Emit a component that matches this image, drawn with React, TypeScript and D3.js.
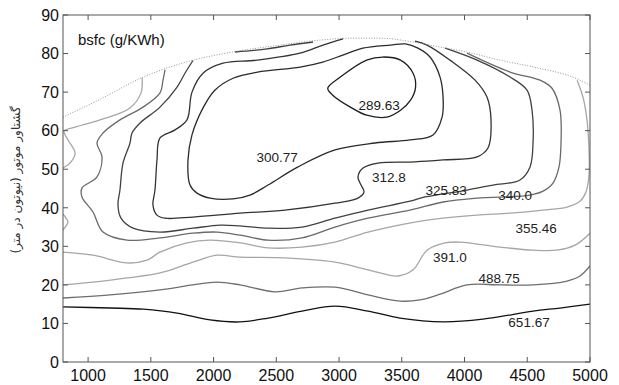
import React from "react";
import * as d3 from "d3";

type Pt = [number, number]; // [rpm, torque N.m]

const xTicks = [1000, 1500, 2000, 2500, 3000, 3500, 4000, 4500, 5000];
const yTicks = [0, 10, 20, 30, 40, 50, 60, 70, 80, 90];

// full load curve (dotted)
const maxTorque: Pt[] = [
  [800, 63.5], [1100, 68.2], [1440, 73.9], [1840, 78.3], [2150, 80.4], [2530, 82.2],
  [2850, 83.5], [3090, 84.0], [3330, 84.0], [3570, 83.1], [3800, 81.7], [4020, 80.4],
  [4280, 78.3], [4550, 76.5], [4900, 73.4], [5000, 71.8],
];

const bsfc289: Pt[] = [
  [2910, 71.0], [3010, 73.9], [3220, 78.3], [3350, 79.1], [3490, 78.3], [3590, 74.9],
  [3610, 71.3], [3570, 67.9], [3490, 65.3], [3380, 63.5], [3220, 64.0], [3090, 66.1], [2950, 69.2],
];

const bsfc300: Pt[] = [
  [3530, 82.5], [3410, 82.2], [3190, 81.4], [3030, 79.6], [2870, 77.8], [2690, 76.5],
  [2350, 75.2], [2155, 73.6], [2010, 70.5], [1916, 65.9], [1828, 58.9], [1796, 52.4],
  [1812, 45.9], [1868, 43.8], [1972, 42.5], [2155, 42.3], [2290, 43.3], [2434, 45.9],
  [2673, 50.6], [2968, 55.0], [3287, 56.8], [3566, 57.6], [3749, 58.9], [3821, 63.5],
  [3829, 68.7], [3805, 73.9], [3725, 79.1], [3629, 81.4],
];

const bsfc312: Pt[] = [
  [3032, 83.8], [2872, 82.2], [2689, 80.1], [2346, 78.3], [2075, 77.5], [1916, 74.9],
  [1828, 70.0], [1788, 62.8], [1693, 60.2], [1573, 58.1], [1549, 52.4], [1533, 44.6],
  [1517, 40.7], [1549, 38.1], [1613, 37.3], [1836, 37.6], [2211, 38.6], [2569, 39.4],
  [2968, 41.2], [3151, 42.5], [3199, 44.1], [3167, 46.4], [3151, 48.0], [3191, 50.3],
  [3311, 51.6], [3605, 51.9], [3829, 52.4], [4100, 53.2], [4187, 55.5], [4211, 62.8],
  [4179, 68.7], [4084, 73.1], [3884, 78.3], [3701, 82.2], [3605, 83.2],
];

const bsfc325: Pt[] = [
  [1836, 78.2], [1772, 74.9], [1709, 71.3], [1573, 66.1], [1414, 62.0], [1350, 59.4],
  [1334, 56.8], [1278, 51.6], [1254, 44.6], [1238, 40.7], [1262, 37.3], [1358, 34.7],
  [1573, 33.7], [1836, 34.7], [2051, 35.5], [2211, 35.3], [2434, 34.7], [2705, 35.0],
  [2968, 37.3], [3231, 39.4], [3566, 41.7], [3685, 42.8], [4020, 44.6], [4227, 45.9],
  [4442, 47.2], [4522, 50.6], [4546, 56.8], [4538, 65.3], [4498, 70.5], [4363, 73.9],
  [4100, 78.3], [3845, 81.4],
];

const bsfc325Top: Pt[] = [[2171, 80.4], [2426, 81.2], [2609, 82.2], [2793, 83.0]];

const bsfc340: Pt[] = [
  [1613, 75.8], [1597, 73.1], [1573, 69.8], [1438, 66.1], [1254, 62.8], [1119, 59.4],
  [1071, 56.8], [1111, 53.2], [1071, 48.0], [951, 45.1], [951, 42.8], [1039, 38.9],
  [1119, 33.7], [1310, 31.6], [1573, 32.2], [1836, 33.4], [2027, 33.7], [2211, 32.9],
  [2434, 31.6], [2705, 32.2], [2968, 35.0], [3231, 37.3], [3566, 39.4], [3829, 41.5],
  [4100, 42.5], [4522, 43.3], [4626, 44.3], [4705, 46.4], [4753, 50.6], [4769, 56.8],
  [4761, 65.3], [4697, 71.0], [4602, 73.1], [4363, 75.2], [4020, 80.1],
];

const bsfc355Left: Pt[] = [
  [1430, 73.7], [1422, 69.8], [1334, 65.9], [1095, 62.8], [896, 60.9], [808, 59.9],
  [840, 57.6], [896, 54.2], [864, 51.9], [800, 50.3],
];
const bsfc355Edge: Pt[] = [[800, 38.4], [824, 37.3], [840, 36.3], [824, 35.3], [800, 34.2]];
const bsfc355: Pt[] = [
  [800, 28.5], [1039, 27.7], [1310, 25.7], [1470, 26.4], [1573, 28.5], [1788, 30.9],
  [1972, 31.6], [2211, 30.9], [2434, 29.6], [2705, 29.8], [2968, 31.1], [3231, 33.7],
  [3605, 36.3], [3829, 37.3], [4100, 38.1], [4363, 38.6], [4626, 39.4], [4817, 40.2],
  [4920, 41.7], [4968, 44.1], [4992, 48.5], [4992, 55.0], [4976, 62.8], [4944, 68.7], [4897, 73.1],
];

const bsfc391: Pt[] = [
  [800, 20.0], [1039, 20.7], [1310, 21.8], [1573, 23.1], [1836, 25.9], [2027, 27.7],
  [2211, 27.2], [2569, 27.0], [2968, 25.9], [3231, 23.9], [3470, 22.3], [3590, 23.9],
  [3701, 29.0], [3845, 30.9], [3964, 31.1], [4283, 29.8], [4546, 29.0], [4737, 29.0],
  [4881, 30.3], [5000, 33.4],
];

const bsfc488: Pt[] = [
  [800, 16.6], [1175, 17.4], [1573, 18.7], [1836, 20.0], [2027, 20.7], [2211, 20.0],
  [2490, 18.2], [2705, 19.2], [2968, 19.4], [3231, 17.4], [3486, 15.8], [3645, 16.1],
  [3805, 17.6], [4020, 20.0], [4283, 20.0], [4546, 20.0], [4817, 21.0], [4920, 22.3], [5000, 24.9],
];

const bsfc651: Pt[] = [
  [800, 14.3], [1175, 14.0], [1438, 13.7], [1709, 12.7], [1972, 10.9], [2211, 10.4],
  [2434, 11.4], [2705, 13.2], [2968, 14.5], [3231, 13.2], [3486, 11.4], [3829, 10.4],
  [4147, 11.1], [4546, 13.2], [4761, 14.0], [5000, 15.0],
];

const contours = [
  { pts: bsfc651, color: "#111", closed: false },
  { pts: bsfc488, color: "#6e6e6e", closed: false },
  { pts: bsfc391, color: "#a6a6a6", closed: false },
  { pts: bsfc355, color: "#a6a6a6", closed: false },
  { pts: bsfc355Left, color: "#a6a6a6", closed: false },
  { pts: bsfc355Edge, color: "#a6a6a6", closed: false },
  { pts: bsfc340, color: "#6a6a6a", closed: false },
  { pts: bsfc325, color: "#404040", closed: false },
  { pts: bsfc325Top, color: "#404040", closed: false },
  { pts: bsfc312, color: "#333", closed: false },
  { pts: bsfc300, color: "#2a2a2a", closed: true },
  { pts: bsfc289, color: "#1e1e1e", closed: true },
];

const labels = [
  { text: "289.63", rpm: 3319, tq: 66.6 },
  { text: "300.77", rpm: 2506, tq: 53.2 },
  { text: "312.8", rpm: 3398, tq: 48.0 },
  { text: "325.83", rpm: 3853, tq: 44.6 },
  { text: "340.0", rpm: 4403, tq: 43.3 },
  { text: "355.46", rpm: 4570, tq: 34.7 },
  { text: "391.0", rpm: 3884, tq: 27.2 },
  { text: "488.75", rpm: 4275, tq: 21.8 },
  { text: "651.67", rpm: 4514, tq: 10.4 },
];

const W = 619;
const H = 385;
const m = { top: 15, right: 29, bottom: 23, left: 63 };

export default function App() {
  const x = d3.scaleLinear().domain([800, 5000]).range([m.left, W - m.right]);
  const y = d3.scaleLinear().domain([0, 90]).range([H - m.bottom, m.top]);

  const open = d3.line<Pt>().x((d) => x(d[0])).y((d) => y(d[1])).curve(d3.curveCatmullRom.alpha(0.5));
  const loop = d3.line<Pt>().x((d) => x(d[0])).y((d) => y(d[1])).curve(d3.curveCatmullRomClosed.alpha(0.5));
  const border = d3.line<Pt>().x((d) => x(d[0])).y((d) => y(d[1])).curve(d3.curveMonotoneX);

  const font = "'Liberation Sans', Arial, Helvetica, sans-serif";
  const x0 = m.left, x1 = W - m.right, y0 = H - m.bottom, y1 = m.top;

  return (
    <svg width={W} height={H} style={{ position: "absolute", left: 0, top: 0, background: "#fff" }}>
      <defs>
        <clipPath id="plot">
          <rect x={x0} y={y1} width={x1 - x0} height={y0 - y1} />
        </clipPath>
      </defs>

      <g clipPath="url(#plot)" fill="none">
        {contours.map((c, i) => (
          <path key={i} d={(c.closed ? loop : open)(c.pts) || ""} stroke={c.color} strokeWidth={1.3} />
        ))}
        <path d={border(maxTorque) || ""} stroke="#8a8a8a" strokeWidth={0.9} strokeDasharray="1,1.6" />
      </g>

      {labels.map((l) => (
        <text key={l.text} x={x(l.rpm)} y={y(l.tq)} dy="0.35em" textAnchor="middle"
          fontFamily={font} fontSize={13.5} fill="#222">{l.text}</text>
      ))}

      <text x={78} y={45} fontFamily={font} fontSize={15} fill="#111">bsfc (g/KWh)</text>

      {/* axes box */}
      <rect x={x0} y={y1} width={x1 - x0} height={y0 - y1} fill="none" stroke="#555" strokeWidth={1} />
      {xTicks.map((t) => (
        <g key={"x" + t}>
          <line x1={x(t)} x2={x(t)} y1={y0} y2={y0 - 5} stroke="#555" />
          <line x1={x(t)} x2={x(t)} y1={y1} y2={y1 + 5} stroke="#555" />
          <text x={x(t)} y={381} textAnchor="middle" fontFamily={font} fontSize={16} fill="#111">{t}</text>
        </g>
      ))}
      {yTicks.map((t) => (
        <g key={"y" + t}>
          <line x1={x0} x2={x0 + 5} y1={y(t)} y2={y(t)} stroke="#555" />
          <line x1={x1} x2={x1 - 5} y1={y(t)} y2={y(t)} stroke="#555" />
          <text x={59} y={y(t)} dy="0.36em" textAnchor="end" fontFamily={font} fontSize={16} fill="#111">{t}</text>
        </g>
      ))}

      <text transform="translate(20,180) rotate(-90)" textAnchor="middle" fontFamily="'DejaVu Sans', sans-serif"
        fontSize={12} fill="#333" direction="rtl">گشتاور موتور (نیوتون در متر)</text>
    </svg>
  );
}
